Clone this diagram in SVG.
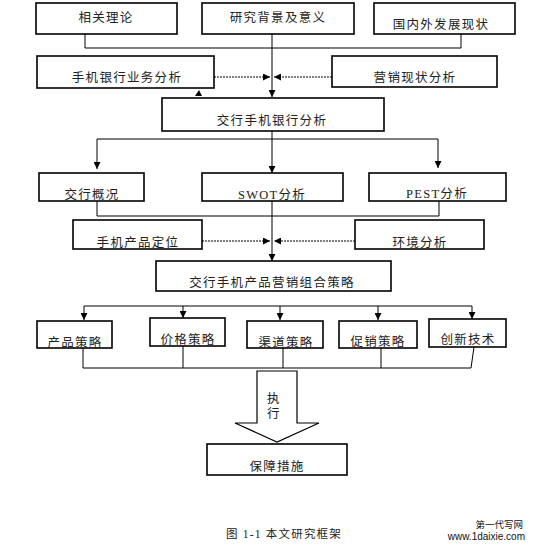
<svg xmlns="http://www.w3.org/2000/svg" width="535" height="555" viewBox="0 0 535 555">
<defs>
<marker id="ah" viewBox="0 0 10 10" refX="10" refY="5" markerWidth="7" markerHeight="7" markerUnits="userSpaceOnUse" orient="auto">
<path d="M0,0 L10,5 L0,10 z" fill="#000"/>
</marker>
</defs>
<style>
.box{fill:#fff;stroke:#000;stroke-width:1.6}
.t{font-family:"Liberation Serif","Noto Sans CJK SC",serif;font-size:12.5px;letter-spacing:1.3px;fill:#222;text-anchor:middle}
.ln{fill:none;stroke:#000;stroke-width:1}
.ar{fill:none;stroke:#000;stroke-width:1;marker-end:url(#ah)}
.dt{fill:none;stroke:#000;stroke-width:1;stroke-dasharray:2,1;marker-end:url(#ah)}
</style>
<rect width="535" height="555" fill="#fff"/>
<g id="connectors">
<polyline class="ln" points="85,34 85,48 461,48 461,34"/>
<line class="ar" x1="272" y1="34" x2="272" y2="97"/>
<line class="dt" x1="214" y1="77" x2="270" y2="77"/>
<line class="dt" x1="332" y1="77" x2="274" y2="77"/>
<path d="M195,96 L199,90 L202,96 z" fill="#000"/>
<polyline class="ln" points="97,139 438,139"/>
<line class="ar" x1="97" y1="139" x2="97" y2="169"/>
<line class="ar" x1="438" y1="139" x2="438" y2="168"/>
<line class="ar" x1="272" y1="131" x2="272" y2="173"/>
<polyline class="ln" points="97,201 97,216 439,216 439,201"/>
<line class="ar" x1="272" y1="201" x2="272" y2="261"/>
<line class="dt" x1="202" y1="241" x2="270" y2="241"/>
<line class="dt" x1="355" y1="241" x2="274" y2="241"/>
<line class="ln" x1="84" y1="306" x2="472" y2="306"/>
<line class="ar" x1="84" y1="306" x2="84" y2="320"/>
<line class="ar" x1="183" y1="306" x2="183" y2="318"/>
<line class="ar" x1="280" y1="306" x2="280" y2="320"/>
<line class="ar" x1="378" y1="306" x2="378" y2="320"/>
<line class="ar" x1="472" y1="306" x2="472" y2="319"/>
<polyline class="ln" points="83,348 83,368 471,368 474,347"/>
<line class="ln" x1="183" y1="346" x2="183" y2="368"/>
<line class="ln" x1="283" y1="348" x2="283" y2="368"/>
<line class="ln" x1="381" y1="348" x2="381" y2="368"/>
</g>
<g id="n1"><rect class="box" x="36" y="3" width="141" height="31"/><text class="t" x="106" y="22">相关理论</text></g>
<g id="n2"><rect class="box" x="202" y="3" width="152" height="31"/><text class="t" x="278" y="22">研究背景及意义</text></g>
<g id="n3"><rect class="box" x="374" y="3" width="141" height="31"/><text class="t" x="441" y="29">国内外发展现状</text></g>
<g id="n4"><rect class="box" x="37" y="56" width="177" height="32"/><text class="t" x="127" y="82">手机银行业务分析</text></g>
<g id="n5"><rect class="box" x="332" y="56" width="165" height="31"/><text class="t" x="415" y="82">营销现状分析</text></g>
<g id="n6"><rect class="box" x="162" y="98" width="222" height="33"/><text class="t" x="272" y="125">交行手机银行分析</text></g>
<g id="n7"><rect class="box" x="39" y="173" width="105" height="28"/><text class="t" x="92" y="199">交行概况</text></g>
<g id="n8"><rect class="box" x="202" y="173" width="141" height="28"/><text class="t" x="272" y="199">SWOT分析</text></g>
<g id="n9"><rect class="box" x="369" y="173" width="137" height="28"/><text class="t" x="437" y="198">PEST分析</text></g>
<g id="n10"><rect class="box" x="73" y="220" width="129" height="29"/><text class="t" x="138" y="247">手机产品定位</text></g>
<g id="n11"><rect class="box" x="355" y="220" width="129" height="29"/><text class="t" x="420" y="247">环境分析</text></g>
<g id="n12"><rect class="box" x="156" y="261" width="235" height="30"/><text class="t" x="272" y="287">交行手机产品营销组合策略</text></g>
<g id="n13"><rect class="box" x="37" y="321" width="75" height="27"/><text class="t" x="75" y="347">产品策略</text></g>
<g id="n14"><rect class="box" x="150" y="318" width="75" height="28"/><text class="t" x="188" y="344">价格策略</text></g>
<g id="n15"><rect class="box" x="247" y="321" width="76" height="27"/><text class="t" x="286" y="347">渠道策略</text></g>
<g id="n16"><rect class="box" x="339" y="321" width="78" height="27"/><text class="t" x="378" y="346">促销策略</text></g>
<g id="n17"><rect class="box" x="429" y="319" width="77" height="28"/><text class="t" x="468" y="344">创新技术</text></g>
<g id="n18"><path d="M257,371 L297,371 L297,423 L319,423 L277,442 L235,423 L257,423 z" fill="#fff" stroke="#000" stroke-width="1.2"/><text class="t" x="274" y="403">执</text><text class="t" x="274" y="418">行</text></g>
<g id="n19"><rect class="box" x="207" y="444" width="140" height="31"/><text class="t" x="277" y="471">保障措施</text></g>
<text x="284" y="538" style="font-family:'Liberation Serif','Noto Sans CJK SC',serif;font-size:11.5px;letter-spacing:1.2px;fill:#222;text-anchor:middle">图 1-1  本文研究框架</text>
<text x="523" y="528" style="font-family:'Noto Sans CJK SC',sans-serif;font-size:9.5px;fill:#111;text-anchor:end">第一代写网</text>
<text x="525" y="540" style="font-family:'Liberation Sans',sans-serif;font-size:10px;fill:#111;text-anchor:end">www.1daixie.com</text>
</svg>
